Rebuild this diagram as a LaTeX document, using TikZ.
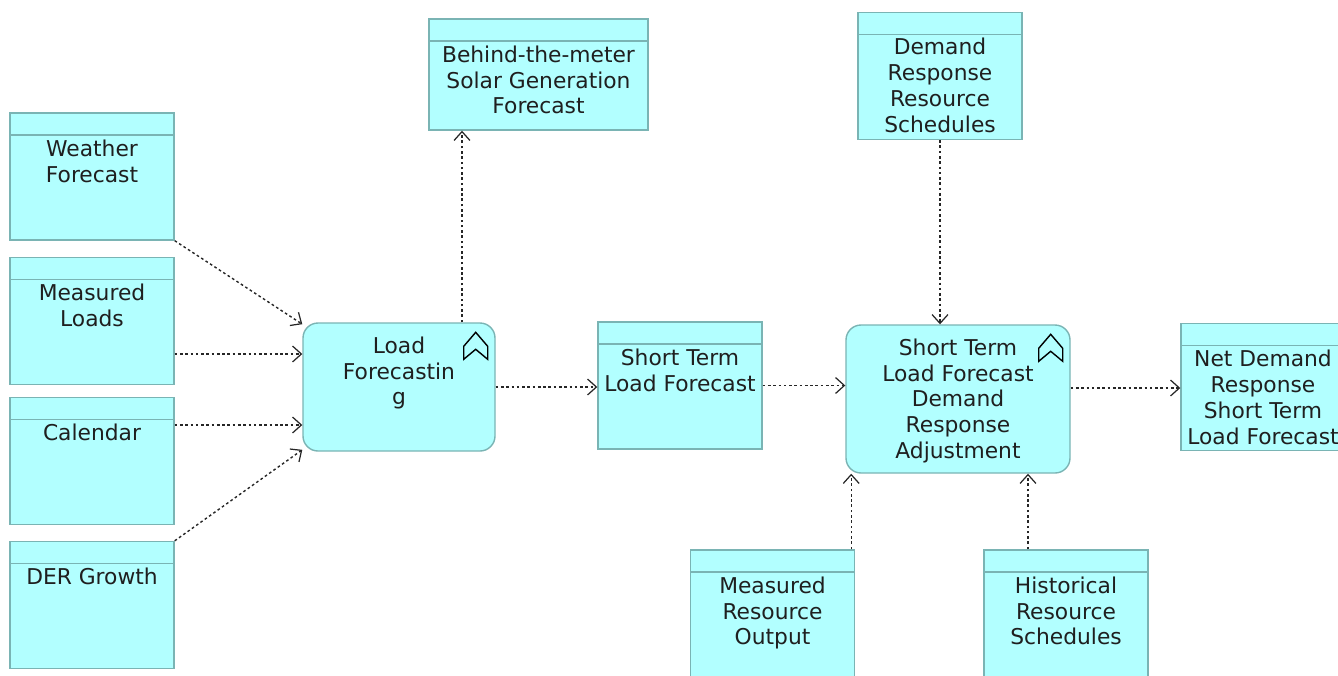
\documentclass[tikz,border=0pt]{standalone}
\usepackage{fontspec}
\setmainfont{DejaVu Sans}
\usetikzlibrary{arrows.meta}

\definecolor{boxfill}{RGB}{178,255,255}
\definecolor{boxline}{RGB}{122,180,180}

\tikzset{
  obj/.style={draw=boxline, fill=boxfill, line width=0.8pt, minimum width=3.28cm, minimum height=2.54cm, inner sep=0pt,
    path picture={\draw[boxline, line width=0.8pt] ([yshift=-0.44cm]path picture bounding box.north west) -- ([yshift=-0.44cm]path picture bounding box.north east);}},
  func/.style={draw=boxline, fill=boxfill, line width=0.8pt, rounded corners=0.3cm, inner sep=0pt},
  lbl/.style={anchor=north, align=center, inner sep=0pt, text=black!88, font=\fontsize{12.4}{14.7}\selectfont},
  flow/.style={black!85, line width=0.8pt, dash pattern=on 1.5pt off 1.5pt, -{Straight Barb[length=5pt,width=9pt,line width=0.7pt]}}
}

% chevron of a function box
\newcommand{\fnicon}[1]{%
  \draw[black, line width=0.8pt, line join=miter] ([shift={(-0.40,-0.20)}]#1.north east) -- ++(-0.24,-0.28) -- ++(0,-0.26) -- ++(0.24,0.20) -- ++(0.24,-0.20) -- ++(0,0.26) -- cycle;}

\begin{document}
\begin{tikzpicture}
\useasboundingbox (0,0) rectangle (26.76,-13.5);
\clip (0,0) rectangle (26.76,-13.5);

% inputs on the left
\node[obj, label={[lbl, yshift=-0.54cm]north:Weather\\Forecast}] (wf) at (1.84,-3.53) {};
\node[obj, label={[lbl, yshift=-0.54cm]north:Measured\\Loads}] (ml) at (1.84,-6.42) {};
\node[obj, label={[lbl, yshift=-0.54cm]north:Calendar}] (cal) at (1.84,-9.22) {};
\node[obj, label={[lbl, yshift=-0.54cm]north:DER Growth}] (der) at (1.84,-12.10) {};

% load forecasting
\node[func, minimum width=3.84cm, minimum height=2.56cm, label={[lbl, yshift=-0.28cm]north:Load\\Forecastin\\g}] (lf) at (7.98,-7.74) {};
\fnicon{lf}
\node[obj, minimum width=4.38cm, minimum height=2.22cm, label={[lbl, yshift=-0.54cm]north:Behind-the-meter\\Solar Generation\\Forecast}] (btm) at (10.77,-1.49) {};
\node[obj, label={[lbl, yshift=-0.54cm]north:Short Term\\Load Forecast}] (stlf) at (13.60,-7.71) {};

% demand response adjustment
\node[obj, label={[lbl, yshift=-0.52cm]north:Demand\\Response\\Resource\\Schedules}] (drrs) at (18.80,-1.52) {};
\node[func, minimum width=4.48cm, minimum height=2.96cm, label={[lbl, yshift=-0.28cm]north:Short Term\\Load Forecast\\Demand\\Response\\Adjustment}] (adj) at (19.16,-7.98) {};
\fnicon{adj}
\node[obj, label={[lbl, yshift=-0.54cm]north:Net Demand\\Response\\Short Term\\Load Forecast}] (ndr) at (25.26,-7.74) {};
\node[obj, label={[lbl, yshift=-0.54cm]north:Measured\\Resource\\Output}] (mro) at (15.45,-12.27) {};
\node[obj, label={[lbl, yshift=-0.54cm]north:Historical\\Resource\\Schedules}] (hrs) at (21.32,-12.27) {};

% flows
\draw[flow] (wf.south east) -- (lf.147);
\draw[flow] ([yshift=-0.66cm]ml.east) -- ([yshift=-0.66cm]ml.east -| lf.west);
\draw[flow] ([yshift=0.72cm]cal.east) -- ([yshift=0.72cm]cal.east -| lf.west);
\draw[flow] (der.north east) -- (lf.213);
\draw[flow] ([xshift=1.26cm]lf.north) -- ([xshift=1.26cm]lf.north |- btm.south);
\draw[flow] (lf.east) -- (lf.east -| stlf.west);
\draw[flow] (stlf.east) -- (stlf.east -| adj.west);
\draw[flow] (drrs.south) -- (drrs.south |- adj.north);
\draw[flow] ([yshift=0.22cm]adj.east) -- ([yshift=0.22cm]adj.east -| ndr.west);
\draw[flow] ([xshift=-0.08cm]mro.north east) -- ([xshift=-0.08cm]mro.north east |- adj.south);
\draw[flow] ([xshift=-0.76cm]hrs.north) -- ([xshift=-0.76cm]hrs.north |- adj.south);

\end{tikzpicture}
\end{document}
